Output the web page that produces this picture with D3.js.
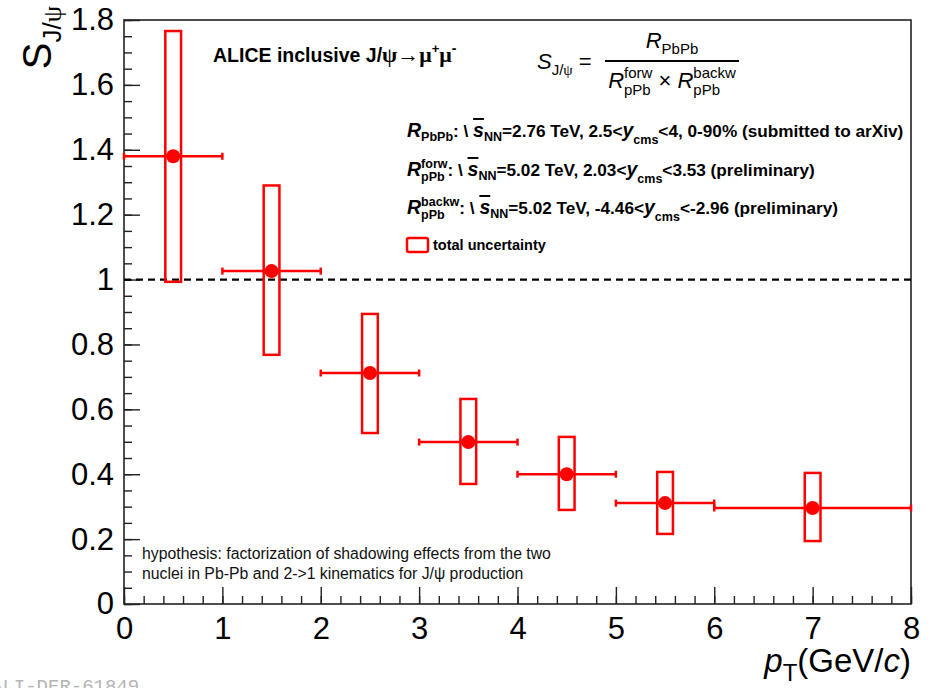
<!DOCTYPE html>
<html>
<head>
<meta charset="utf-8">
<script src="https://cdn.jsdelivr.net/npm/d3@7/dist/d3.min.js"></script>
<style>
  html, body { margin: 0; padding: 0; background: #fff; }
  svg { display: block; }
  text { white-space: pre; }
</style>
</head>
<body>
<svg id="chart" width="935" height="688"></svg>
<script>
// pT bins (GeV/c) and the shadowing ratio S_J/psi in each bin
const ptLow    = [0, 1, 2, 3, 4, 5, 6];
const ptHigh   = [1, 2, 3, 4, 5, 6, 8];
const ptCenter = [0.5, 1.5, 2.5, 3.5, 4.5, 5.5, 7];
const sValue   = [1.38, 1.026, 0.712, 0.499, 0.400, 0.311, 0.296];
// total uncertainty band (lower / upper edge)
const totLow   = [0.993, 0.768, 0.527, 0.370, 0.290, 0.216, 0.194];
const totHigh  = [1.766, 1.290, 0.894, 0.632, 0.515, 0.407, 0.404];
// axis ticks
const xTicks      = [0, 1, 2, 3, 4, 5, 6, 7, 8];
const xMinorTicks = d3.range(0, 8.0001, 0.2).map(v => +v.toFixed(2));
const yTicks      = [0, 0.2, 0.4, 0.6, 0.8, 1, 1.2, 1.4, 1.6, 1.8];
const yMinorTicks = d3.range(0, 1.8001, 0.05).map(v => +v.toFixed(2));
const refLevel = 1;

const SANS = "'Liberation Sans', Arial, Helvetica, sans-serif";
const SERIF = "'Liberation Serif', 'Times New Roman', serif";
const RED = "#ff0000";

const svg = d3.select("#chart");
const L = 124, R = 911, T = 20, B = 604;

const x = d3.scaleLinear().domain([0, 8]).range([L, R]);
const y = d3.scaleLinear().domain([0, 1.8]).range([B, T]);

// ---------- rich text helper (sub/superscripts, mixed styles) ----------
function addPiece(g, cx, s, base) {
  const t = g.append("text")
    .attr("xml:space", "preserve")
    .attr("x", cx + (s.dx || 0))
    .attr("y", s.dy || 0)
    .attr("font-family", s.f || base.f || SANS)
    .attr("font-size", s.size || base.size)
    .attr("font-style", s.i ? "italic" : "normal")
    .attr("font-weight", (s.b !== undefined ? s.b : base.b) ? "bold" : "normal")
    .attr("fill", s.fill || base.fill || "#000")
    .text(s.t);
  if (s.over) t.style("text-decoration", "overline");
  return t;
}
function rich(parent, px, py, segs, base, anchor, rotate) {
  const g = parent.append("g");
  let cx = 0;
  for (const s of segs) {
    if (s.stack) {
      let w = 0;
      for (const p of s.stack) {
        const t = addPiece(g, cx, p, base);
        w = Math.max(w, t.node().getComputedTextLength());
      }
      cx += w;
    } else {
      const t = addPiece(g, cx, s, base);
      cx += t.node().getComputedTextLength() + (s.gap || 0);
    }
  }
  const shift = anchor === "end" ? -cx : anchor === "middle" ? -cx / 2 : 0;
  g.attr("transform", `translate(${px},${py})` + (rotate ? ` rotate(${rotate})` : "") + ` translate(${shift},0)`);
  return cx;
}

// ---------- axes ----------
function styleAxis(g) {
  g.select(".domain").remove();
  g.selectAll(".tick line").attr("stroke", "#222").attr("stroke-width", 1.4);
  g.selectAll(".tick text").attr("font-family", SANS).attr("font-size", 31).attr("fill", "#000");
}
const fmt = d => String(+d.toFixed(1));

svg.append("g").attr("transform", `translate(0,${B})`)
  .call(d3.axisBottom(x).tickValues(xMinorTicks).tickSize(-8).tickFormat(""))
  .call(styleAxis);
svg.append("g").attr("transform", `translate(0,${B})`)
  .call(d3.axisBottom(x).tickValues(xTicks).tickSize(-17).tickPadding(13).tickFormat(fmt))
  .call(styleAxis);
svg.append("g").attr("transform", `translate(${L},0)`)
  .call(d3.axisLeft(y).tickValues(yMinorTicks).tickSize(-8).tickFormat(""))
  .call(styleAxis);
svg.append("g").attr("transform", `translate(${L},0)`)
  .call(d3.axisLeft(y).tickValues(yTicks).tickSize(-16).tickPadding(10).tickFormat(fmt))
  .call(styleAxis);

// frame
svg.append("rect").attr("x", L).attr("y", T).attr("width", R - L).attr("height", B - T)
  .attr("fill", "none").attr("stroke", "#222").attr("stroke-width", 1.6);

// reference line at S = 1
svg.append("line")
  .attr("x1", x(0)).attr("x2", x(8)).attr("y1", y(refLevel)).attr("y2", y(refLevel))
  .attr("stroke", "#000").attr("stroke-width", 2.2).attr("stroke-dasharray", "7,5");

// ---------- data ----------
const pts = ptCenter.map((c, i) => ({ c, lo: ptLow[i], hi: ptHigh[i], v: sValue[i], eLo: totLow[i], eHi: totHigh[i] }));
const boxHalf = 0.08; // half-width of the uncertainty boxes, in pT units
const data = svg.append("g");

data.selectAll("rect.unc").data(pts).join("rect").attr("class", "unc")
  .attr("x", d => x(d.c - boxHalf)).attr("width", d => x(d.c + boxHalf) - x(d.c - boxHalf))
  .attr("y", d => y(d.eHi)).attr("height", d => y(d.eLo) - y(d.eHi))
  .attr("fill", "none").attr("stroke", RED).attr("stroke-width", 2.5);

data.selectAll("line.hbar").data(pts).join("line").attr("class", "hbar")
  .attr("x1", d => x(d.lo)).attr("x2", d => x(d.hi))
  .attr("y1", d => y(d.v)).attr("y2", d => y(d.v))
  .attr("stroke", RED).attr("stroke-width", 2.5);

const caps = pts.flatMap(d => [{ px: d.lo, v: d.v }, { px: d.hi, v: d.v }]);
data.selectAll("line.cap").data(caps).join("line").attr("class", "cap")
  .attr("x1", d => x(d.px)).attr("x2", d => x(d.px))
  .attr("y1", d => y(d.v) - 3.5).attr("y2", d => y(d.v) + 3.5)
  .attr("stroke", RED).attr("stroke-width", 2.5);

data.selectAll("circle").data(pts).join("circle")
  .attr("cx", d => x(d.c)).attr("cy", d => y(d.v)).attr("r", 7)
  .attr("fill", RED);

// ---------- axis titles ----------
rich(svg, 911, 672, [
  { t: "p", i: true },
  { t: "T", size: 24, dy: 9 },
  { t: "(GeV/" },
  { t: "c", i: true },
  { t: ")" }
], { size: 33 }, "end");

rich(svg, 51, 6, [
  { t: "S", size: 40 },
  { t: "J/", size: 26, dy: 10 },
  { t: "ψ", size: 26, dy: 10, f: SERIF }
], { size: 40 }, "end", -90);

// ---------- title ----------
rich(svg, 213, 62, [
  { t: "ALICE inclusive J/", b: true },
  { t: "ψ→μ", f: SERIF, size: 22 },
  { t: "+", size: 13, dy: -9, b: true },
  { t: "μ", f: SERIF, size: 22 },
  { t: "-", size: 14, dy: -9, b: true }
], { size: 19.5, b: true }, "start");

// ---------- formula ----------
rich(svg, 537, 69, [
  { t: "S", i: true },
  { t: "J/", size: 15, dy: 6 },
  { t: "ψ", size: 15, dy: 6, f: SERIF },
  { t: " =" }
], { size: 22 }, "start");
svg.append("line").attr("x1", 605).attr("x2", 739).attr("y1", 61).attr("y2", 61)
  .attr("stroke", "#000").attr("stroke-width", 2);
rich(svg, 672, 48, [
  { t: "R", i: true },
  { t: "PbPb", size: 15, dy: 6 }
], { size: 22 }, "middle");
rich(svg, 672, 88, [
  { t: "R", i: true },
  { stack: [{ t: "forw", size: 15, dy: -10 }, { t: "pPb", size: 15, dy: 7 }] },
  { t: " × " },
  { t: "R", i: true },
  { stack: [{ t: "backw", size: 15, dy: -10 }, { t: "pPb", size: 15, dy: 7 }] }
], { size: 22 }, "middle");

// ---------- legend ----------
const lb = { size: 17.2, b: true };
const sq = [{ t: "\\ " }, { t: "s", i: true, over: true, size: 19.5 }, { t: "NN", size: 12.5, dy: 4 }];
rich(svg, 407, 137, [
  { t: "R", i: true, size: 19.5 }, { t: "PbPb", size: 12.5, dy: 4 }, { t: ": " },
  ...sq, { t: "=2.76 TeV, 2.5<" }, { t: "y", i: true, size: 19.5 }, { t: "cms", size: 12.5, dy: 7 },
  { t: "<4, 0-90% (submitted to arXiv)" }
], lb, "start");
rich(svg, 407, 176, [
  { t: "R", i: true, size: 19.5 },
  { stack: [{ t: "forw", size: 12.5, dy: -8 }, { t: "pPb", size: 12.5, dy: 5 }] }, { t: ": " },
  ...sq, { t: "=5.02 TeV, 2.03<" }, { t: "y", i: true, size: 19.5 }, { t: "cms", size: 12.5, dy: 7 },
  { t: "<3.53 (preliminary)" }
], lb, "start");
rich(svg, 407, 214, [
  { t: "R", i: true, size: 19.5 },
  { stack: [{ t: "backw", size: 12.5, dy: -8 }, { t: "pPb", size: 12.5, dy: 5 }] }, { t: ": " },
  ...sq, { t: "=5.02 TeV, -4.46<" }, { t: "y", i: true, size: 19.5 }, { t: "cms", size: 12.5, dy: 7 },
  { t: "<-2.96 (preliminary)" }
], lb, "start");
svg.append("rect").attr("x", 407).attr("y", 238).attr("width", 21).attr("height", 14).attr("rx", 2)
  .attr("fill", "none").attr("stroke", RED).attr("stroke-width", 2.5);
svg.append("text").attr("x", 433).attr("y", 250)
  .attr("font-family", SANS).attr("font-size", 14.5).attr("font-weight", "bold").text("total uncertainty");

// ---------- note ----------
const note = svg.append("text").attr("font-family", SANS).attr("font-size", 15.8).attr("fill", "#111");
note.append("tspan").attr("x", 142).attr("y", 559).text("hypothesis: factorization of shadowing effects from the two");
note.append("tspan").attr("x", 142).attr("y", 579).text("nuclei in Pb-Pb and 2->1 kinematics for J/ψ production");

// ---------- figure id ----------
svg.append("text").attr("x", -9).attr("y", 692)
  .attr("font-family", "'Liberation Mono', 'DejaVu Sans Mono', monospace").attr("font-size", 19)
  .attr("fill", "#b4b4b4").text("ALI-DER-61849");
</script>
</body>
</html>
